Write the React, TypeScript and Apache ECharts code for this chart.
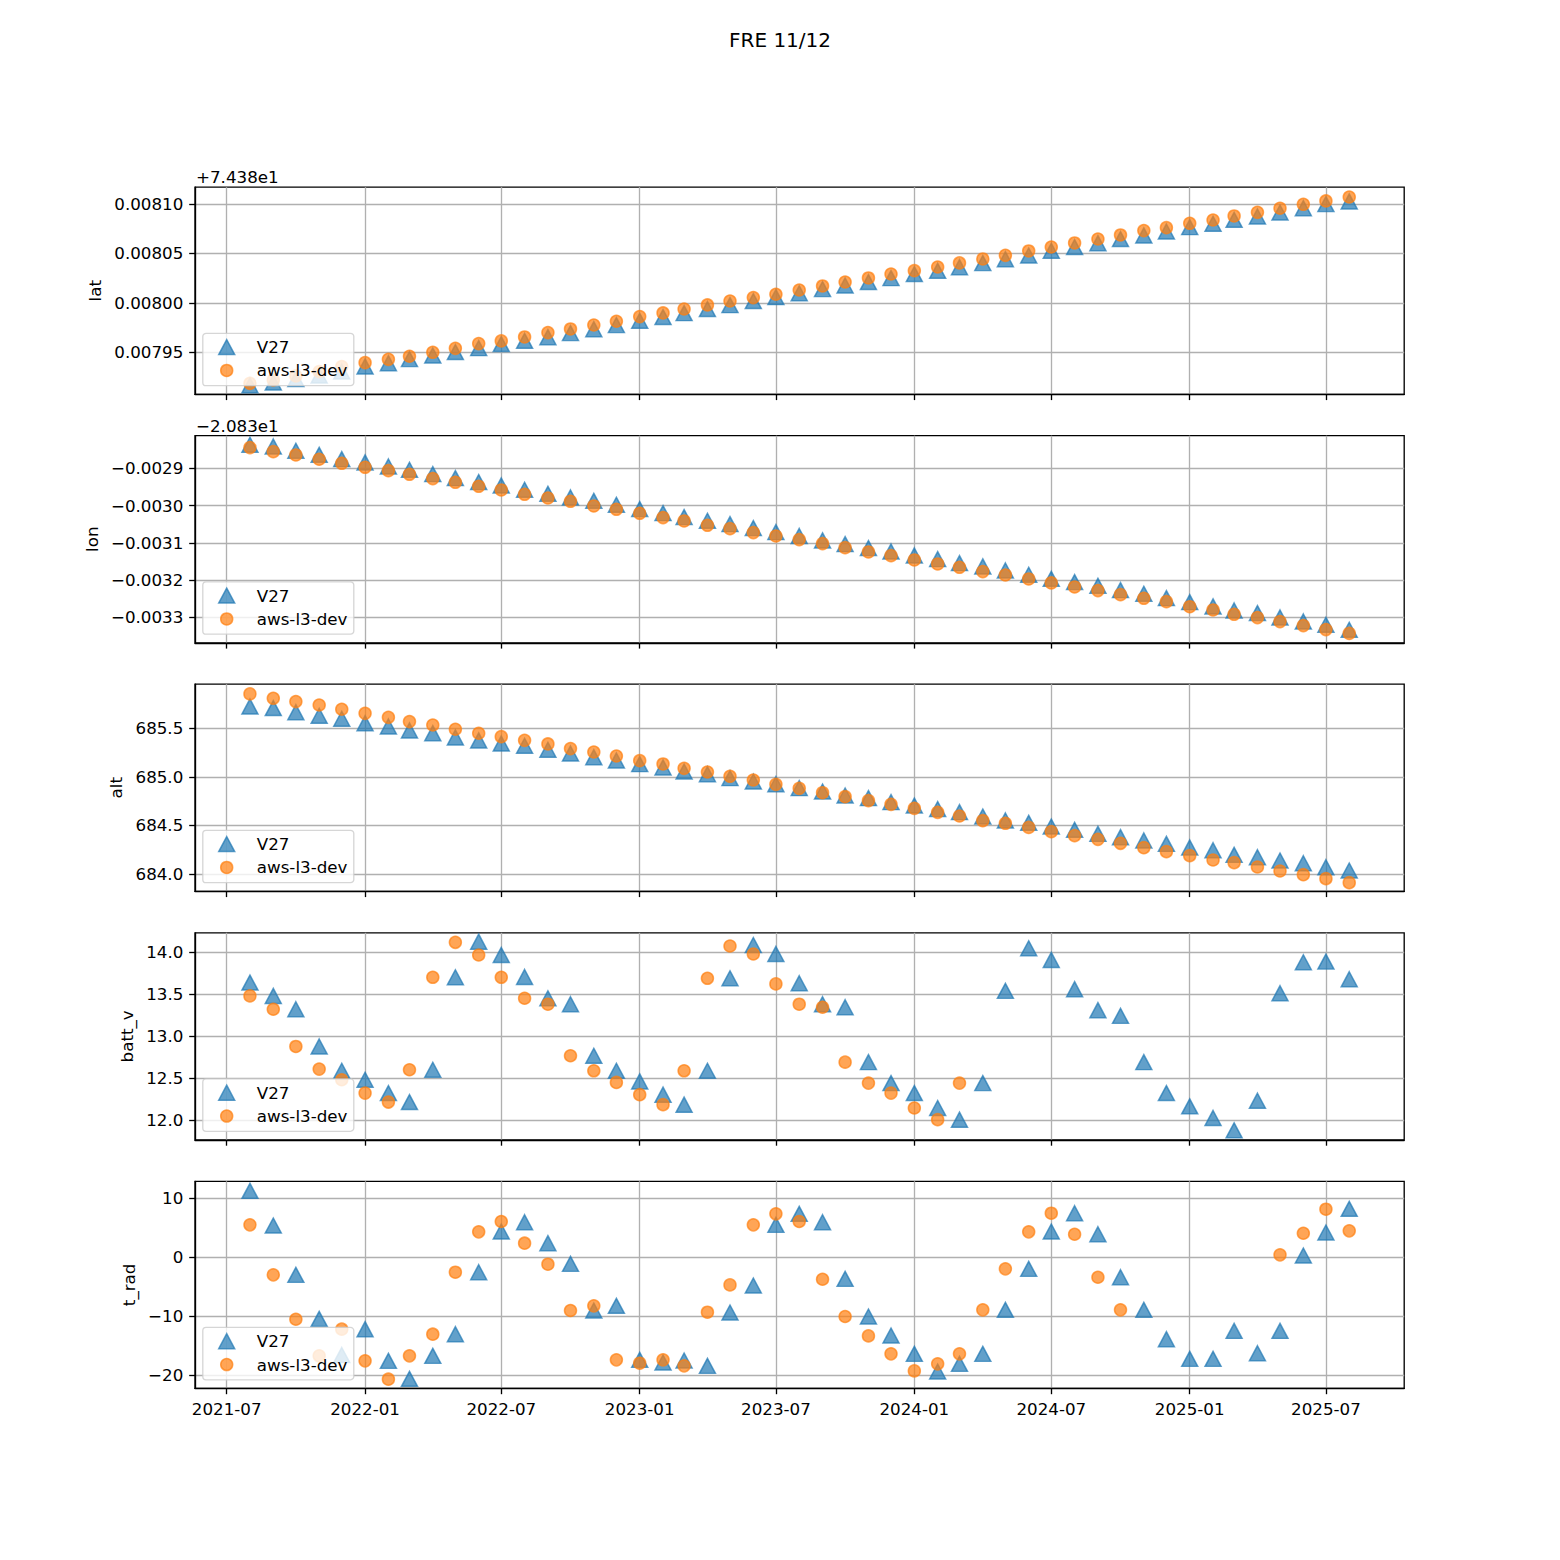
import React, { useEffect, useRef } from "react";
import * as echarts from "echarts";

const FONT = "DejaVu Sans";

const dates = [
  "2021-08-01", "2021-09-01", "2021-10-01", "2021-11-01", "2021-12-01",
  "2022-01-01", "2022-02-01", "2022-03-01", "2022-04-01", "2022-05-01", "2022-06-01",
  "2022-07-01", "2022-08-01", "2022-09-01", "2022-10-01", "2022-11-01", "2022-12-01",
  "2023-01-01", "2023-02-01", "2023-03-01", "2023-04-01", "2023-05-01", "2023-06-01",
  "2023-07-01", "2023-08-01", "2023-09-01", "2023-10-01", "2023-11-01", "2023-12-01",
  "2024-01-01", "2024-02-01", "2024-03-01", "2024-04-01", "2024-05-01", "2024-06-01",
  "2024-07-01", "2024-08-01", "2024-09-01", "2024-10-01", "2024-11-01", "2024-12-01",
  "2025-01-01", "2025-02-01", "2025-03-01", "2025-04-01", "2025-05-01", "2025-06-01",
  "2025-07-01", "2025-08-01",
];

const xTickLabels = ["2021-07", "2022-01", "2022-07", "2023-01", "2023-07", "2024-01", "2024-07", "2025-01", "2025-07"];

const latV27 = [
  74.3879166, 74.3879195, 74.3879229, 74.3879266, 74.3879306, 74.3879357, 74.387939, 74.3879431,
  74.3879468, 74.3879502, 74.3879542, 74.3879583, 74.3879616, 74.3879653, 74.3879694, 74.3879734,
  74.3879775, 74.3879819, 74.3879856, 74.3879896, 74.3879937, 74.3879977, 74.3880018, 74.3880058,
  74.3880097, 74.3880139, 74.3880176, 74.388021, 74.388025, 74.3880291, 74.3880324, 74.3880361,
  74.3880402, 74.3880442, 74.3880479, 74.3880527, 74.3880564, 74.3880604, 74.3880645, 74.3880682,
  74.3880722, 74.3880766, 74.38808, 74.388084, 74.3880874, 74.3880914, 74.3880958, 74.3880999,
  74.3881026,
];
const latAws = [
  74.3879186, 74.387922, 74.3879261, 74.3879304, 74.3879355, 74.3879395, 74.3879429, 74.387946,
  74.38795, 74.387954, 74.3879588, 74.3879615, 74.3879655, 74.3879699, 74.3879736, 74.3879776,
  74.3879814, 74.3879861, 74.3879898, 74.3879938, 74.3879979, 74.3880019, 74.3880053, 74.3880087,
  74.388013, 74.3880171, 74.3880211, 74.3880252, 74.3880292, 74.3880326, 74.3880363, 74.3880404,
  74.3880444, 74.3880481, 74.3880525, 74.3880565, 74.3880606, 74.3880646, 74.3880687, 74.3880731,
  74.3880761, 74.3880805, 74.3880838, 74.3880879, 74.3880916, 74.3880957, 74.3880997, 74.3881031,
  74.3881071,
];

const lonV27 = [
  -20.8328369, -20.8328414, -20.832853, -20.8328638, -20.8328754, -20.8328843, -20.8328951, -20.832904,
  -20.8329157, -20.8329264, -20.8329371, -20.8329461, -20.8329577, -20.8329685, -20.8329783, -20.8329873,
  -20.832998, -20.8330096, -20.8330204, -20.8330311, -20.8330409, -20.8330499, -20.8330606, -20.8330714,
  -20.8330817, -20.8330937, -20.8331036, -20.8331143, -20.8331233, -20.833134, -20.8331439, -20.8331546,
  -20.8331635, -20.8331743, -20.8331859, -20.8331967, -20.8332056, -20.8332155, -20.8332271, -20.8332369,
  -20.8332486, -20.8332593, -20.8332709, -20.8332817, -20.8332888, -20.8333005, -20.8333112, -20.8333201,
  -20.8333335,
];
const lonAws = [
  -20.8328445, -20.8328553, -20.8328642, -20.8328758, -20.8328866, -20.8328973, -20.8329063, -20.8329161,
  -20.8329277, -20.8329376, -20.8329483, -20.8329582, -20.8329698, -20.8329797, -20.8329886, -20.8330011,
  -20.8330101, -20.8330208, -20.8330324, -20.8330414, -20.833053, -20.833062, -20.8330727, -20.8330817,
  -20.8330915, -20.8331022, -20.833113, -20.8331246, -20.8331345, -20.8331461, -20.8331568, -20.8331658,
  -20.8331774, -20.8331864, -20.8331971, -20.8332078, -20.8332186, -20.8332284, -20.8332392, -20.833249,
  -20.833258, -20.8332716, -20.8332803, -20.833292, -20.8333009, -20.8333116, -20.8333223, -20.8333331,
  -20.8333432,
];

const altV27 = [
  685.725, 685.708, 685.666, 685.629, 685.598, 685.553, 685.519, 685.478, 685.45, 685.406,
  685.375, 685.344, 685.32, 685.279, 685.241, 685.203, 685.169, 685.131, 685.097, 685.055,
  685.028, 684.987, 684.952, 684.925, 684.884, 684.849, 684.808, 684.781, 684.74, 684.705,
  684.668, 684.637, 684.592, 684.551, 684.527, 684.489, 684.455, 684.413, 684.379, 684.345,
  684.31, 684.273, 684.245, 684.197, 684.173, 684.139, 684.111, 684.07, 684.036,
];
const altAws = [
  685.854, 685.809, 685.775, 685.74, 685.696, 685.654, 685.613, 685.569, 685.534, 685.49,
  685.449, 685.414, 685.376, 685.339, 685.291, 685.256, 685.215, 685.167, 685.133, 685.088,
  685.05, 685.006, 684.968, 684.923, 684.882, 684.837, 684.796, 684.755, 684.717, 684.676,
  684.635, 684.597, 684.549, 684.522, 684.48, 684.436, 684.395, 684.357, 684.316, 684.271,
  684.23, 684.189, 684.144, 684.117, 684.072, 684.031, 683.993, 683.952, 683.911,
];

const battV27 = [
  13.639, 13.48, 13.321, 12.877, 12.587, 12.48, 12.321, 12.214, 12.599, 13.702,
  14.127, 13.968, 13.706, 13.452, 13.381, 12.766, 12.587, 12.46, 12.302, 12.183,
  12.587, 13.69, 14.087, 13.98, 13.631, 13.381, 13.345, 12.69, 12.44, 12.321,
  12.143, 12.004, 12.44, 13.54, 14.048, 13.909, 13.56, 13.31, 13.242, 12.69,
  12.321, 12.163, 12.024, 11.877, 12.23, 13.512, 13.881, 13.889, 13.679,
];
const battAws = [
  13.48, 13.321, 12.877, 12.607, 12.48, 12.321, 12.214, 12.599, 13.702, 14.119,
  13.968, 13.702, 13.452, 13.381, 12.766, 12.587, 12.448, 12.302, 12.183, 12.587,
  13.69, 14.075, 13.98, 13.623, 13.381, 13.345, 12.69, 12.44, 12.321, 12.143,
  12.004, 12.44, null, null, null, null, null, null, null, null,
  null, null, null, null, null, null, null, null, null,
];

const tradV27 = [
  11.26, 5.38, -3.0, -10.47, -16.6, -12.22, -17.6, -20.65, -16.75, -13.07,
  -2.55, 4.36, 5.94, 2.38, -1.13, -9.05, -8.26, -17.43, -17.88, -17.54,
  -18.45, -9.39, -4.81, 5.49, 7.36, 5.94, -3.68, -10.07, -13.3, -16.41,
  -19.41, -18.11, -16.41, -8.94, -1.98, 4.36, 7.47, 3.9, -3.4, -8.94,
  -13.92, -17.26, -17.26, -12.51, -16.3, -12.51, 0.28, 4.19, 8.21,
];
const tradAws = [
  5.49, -3.0, -10.53, -16.75, -12.22, -17.6, -20.71, -16.75, -13.07, -2.55,
  4.3, 6.06, 2.38, -1.19, -9.05, -8.26, -17.43, -18.0, -17.43, -18.45,
  -9.34, -4.7, 5.49, 7.36, 6.06, -3.74, -10.07, -13.36, -16.41, -19.3,
  -18.11, -16.41, -8.94, -1.98, 4.3, 7.47, 3.9, -3.4, -8.94, null,
  null, null, null, null, null, 0.4, 4.07, 8.15, 4.47,
];

const latTicks = [74.38795, 74.388, 74.38805, 74.3881];
const lonTicks = [-20.8329, -20.833, -20.8331, -20.8332, -20.8333];
const altTicks = [684.0, 684.5, 685.0, 685.5];
const battTicks = [12.0, 12.5, 13.0, 13.5, 14.0];
const tradTicks = [-20, -10, 0, 10];

const MINUS = "\u2212";

const toTs = (s: string) => {
  const [y, m, d] = s.split("-").map(Number);
  return Date.UTC(y, m - 1, d || 1);
};

export default function App() {
  const ref = useRef<HTMLDivElement>(null);

  useEffect(() => {
    document.body.style.margin = "0";
    const chart = echarts.init(ref.current!, null, { renderer: "svg" });

    const DAY = 86400000;
    const first = toTs(dates[0]);
    const last = toTs(dates[dates.length - 1]);
    const pad = (last - first) * 0.05;
    const xMin = first - pad;
    const xMax = last + pad;
    const xTicks = xTickLabels.map((s) => toTs(s + "-01"));
    const xFmt = (v: number) => {
      const d = new Date(v + DAY / 2);
      return `${d.getUTCFullYear()}-${String(d.getUTCMonth() + 1).padStart(2, "0")}`;
    };

    const signed = (v: number, digits: number) =>
      (v < -1e-12 ? MINUS : "") + Math.abs(v).toFixed(digits);

    const panels = [
      { name: "lat", v27: latV27, aws: latAws, min: 74.3879075, max: 74.388117, ticks: latTicks,
        fmt: (v: number) => (v - 74.38).toFixed(5), nameGap: 84.6, offset: "+7.438e1" },
      { name: "lon", v27: lonV27, aws: lonAws, min: -20.8333685, max: -20.8328125, ticks: lonTicks,
        fmt: (v: number) => signed(v + 20.83, 4), nameGap: 87.6, offset: MINUS + "2.083e1" },
      { name: "alt", v27: altV27, aws: altAws, min: 683.822, max: 685.954, ticks: altTicks,
        fmt: (v: number) => v.toFixed(1), nameGap: 63.6, offset: "" },
      { name: "batt_v", v27: battV27, aws: battAws, min: 11.7627, max: 14.2326, ticks: battTicks,
        fmt: (v: number) => v.toFixed(1), nameGap: 54.6, offset: "" },
      { name: "t_rad", v27: tradV27, aws: tradAws, min: -22.275, max: 12.886, ticks: tradTicks,
        fmt: (v: number) => signed(v, 0), nameGap: 53.6, offset: "" },
    ];

    const tops = [187.2, 435.7, 684.2, 932.8, 1181.3];
    const H = 207.1;
    const LEFT = 195;
    const W = 1209.2;
    const FS = 16.7;
    const black = { color: "#000", width: 1.33 };
    const blue = "rgba(31,119,180,0.7)";
    const orange = "rgba(255,127,14,0.7)";
    const TRI_W = 16;
    const TRI_H = 15;
    const CIR = 12;
    const BW = 1.5;
    const MARK_X = 226.7;
    const TEXT_X = 256.8;

    const toPairs = (arr: (number | null)[]) =>
      dates
        .map((d, k) => [toTs(d), arr[k]])
        .filter((p) => p[1] !== null && p[1] !== undefined);

    const grid = panels.map((_, i) => ({
      left: LEFT, top: tops[i], width: W, height: H,
      show: true, borderColor: "#000", borderWidth: 1.33, containLabel: false,
      outerBoundsMode: "none",
    }));

    const xAxis = panels.map((_, i) => ({
      type: "value", gridIndex: i, min: xMin, max: xMax,
      axisLine: { show: true, onZero: false, lineStyle: black },
      axisTick: { show: true, inside: false, length: 5.8, customValues: xTicks, lineStyle: black },
      axisLabel: {
        show: i === 4, customValues: xTicks, formatter: xFmt, margin: 11.7,
        fontSize: FS, color: "#000", fontFamily: FONT,
      },
      splitLine: { show: true, lineStyle: { color: "#b0b0b0", width: 1.33 } },
    }));

    const yAxis = panels.map((p, i) => ({
      type: "value", gridIndex: i, min: p.min, max: p.max, scale: true,
      name: p.name, nameLocation: "middle", nameGap: p.nameGap,
      nameTextStyle: { fontSize: FS, color: "#000", fontFamily: FONT },
      axisLine: { show: true, onZero: false, lineStyle: black },
      axisTick: { show: true, inside: false, length: 5.8, customValues: p.ticks, lineStyle: black },
      axisLabel: {
        customValues: p.ticks, formatter: p.fmt, margin: 11.7,
        fontSize: FS, color: "#000", fontFamily: FONT,
      },
      splitLine: { show: true, lineStyle: { color: "#b0b0b0", width: 1.33 } },
    }));

    const triStyle = { color: blue, borderColor: blue, borderWidth: BW, opacity: 1 };
    const cirStyle = { color: orange, borderColor: orange, borderWidth: BW, opacity: 1 };

    const series: any[] = [];
    panels.forEach((p, i) => {
      series.push({
        type: "scatter", name: "V27", xAxisIndex: i, yAxisIndex: i,
        symbol: "triangle", symbolSize: [TRI_W, TRI_H], silent: true,
        itemStyle: triStyle,
        emphasis: { disabled: true },
        data: toPairs(p.v27),
      });
      series.push({
        type: "scatter", name: "aws-l3-dev", xAxisIndex: i, yAxisIndex: i,
        symbol: "circle", symbolSize: CIR, silent: true,
        itemStyle: cirStyle,
        emphasis: { disabled: true },
        data: toPairs(p.aws),
      });
    });

    const legend: any[] = [];
    const graphic: any[] = [];
    panels.forEach((p, i) => {
      const bottom = tops[i] + H;
      const triLeft = MARK_X - TRI_W / 2 - BW / 2;
      const cirLeft = MARK_X - CIR / 2 - BW / 2;
      legend.push({
        orient: "vertical", left: triLeft, top: bottom - 47.3 - 8.4, padding: 0,
        itemWidth: TRI_W, itemHeight: TRI_H, selectedMode: false,
        textStyle: {
          fontSize: FS, color: "#000", fontFamily: FONT,
          padding: [0, 0, 0, TEXT_X - (MARK_X + TRI_W / 2 + 5)],
        },
        data: [{ name: "V27", icon: "triangle", itemStyle: triStyle }],
      });
      legend.push({
        orient: "vertical", left: cirLeft, top: bottom - 24 - 8.35, padding: 0,
        itemWidth: CIR, itemHeight: CIR, selectedMode: false,
        textStyle: {
          fontSize: FS, color: "#000", fontFamily: FONT,
          padding: [0, 0, 0, TEXT_X - (MARK_X + CIR / 2 + 5)],
        },
        data: [{ name: "aws-l3-dev", icon: "circle", itemStyle: cirStyle }],
      });
      graphic.push({
        type: "rect", z: 3, silent: true,
        shape: { x: 202.8, y: bottom - 61, width: 151, height: 52.4, r: 3.3 },
        style: { fill: "rgba(255,255,255,0.8)", stroke: "rgba(204,204,204,0.8)", lineWidth: 1.33 },
      });
      if (p.offset) {
        graphic.push({
          type: "text", left: 196, top: tops[i] - 18.3, silent: true,
          style: { text: p.offset, fontSize: FS, fontFamily: FONT, fill: "#000" },
        });
      }
    });

    chart.setOption({
      animation: false,
      backgroundColor: "#fff",
      textStyle: { fontFamily: FONT },
      title: {
        text: "FRE 11/12", left: "center", top: 30, padding: 0,
        textStyle: { fontSize: 20, fontWeight: "normal", color: "#000", fontFamily: FONT },
      },
      grid, xAxis, yAxis, series, legend, graphic,
    });

    return () => chart.dispose();
  }, []);

  return <div ref={ref} style={{ width: 1560, height: 1560 }} />;
}
